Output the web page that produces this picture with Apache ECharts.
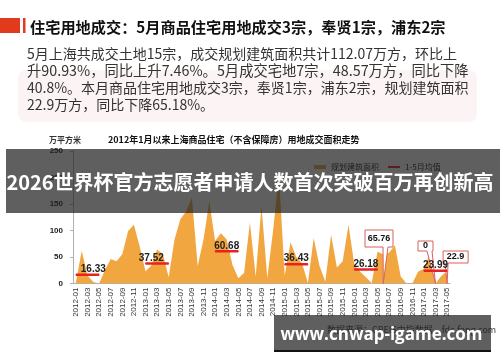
<!DOCTYPE html>
<html><head><meta charset="utf-8">
<script src="https://cdn.jsdelivr.net/npm/echarts@6/dist/echarts.min.js"></script>
<style>html,body{margin:0;padding:0;background:#fff}#c{width:500px;height:362px}</style>
</head><body><div id="c"></div>
<script>
// ---------------- DATA ----------------
const categories = [
 '2012-01','2012-02','2012-03','2012-04','2012-05','2012-06','2012-07','2012-08','2012-09','2012-10','2012-11','2012-12',
 '2013-01','2013-02','2013-03','2013-04','2013-05','2013-06','2013-07','2013-08','2013-09','2013-10','2013-11','2013-12',
 '2014-01','2014-02','2014-03','2014-04','2014-05','2014-06','2014-07','2014-08','2014-09','2014-10','2014-11','2014-12',
 '2015-01','2015-02','2015-03','2015-04','2015-05','2015-06','2015-07','2015-08','2015-09','2015-10','2015-11','2015-12',
 '2016-01','2016-02','2016-03','2016-04','2016-05','2016-06','2016-07','2016-08','2016-09','2016-10','2016-11','2016-12',
 '2017-01','2017-02','2017-03','2017-04','2017-05'
];
const areaValues = [
  2, 62, 15, 2.65, 0, 25, 46, 42, 55, 99, 111, 70,
  23, 34, 64, 55, 11.6, 83, 121, 136, 162, 33, 83, 155,
  80, 95, 83, 35, 10, 20, 115, 13, 146, 10, 100, 205,
  15, 78, 50, 38, 1, 86, 33, 4, 92, 30, 42, 111,
  36, 22, 12, 1, 60, 55, 58, 72, 13, 0, 0, 22,
  28, 55, 0, 14, 22.9
];
const avgYears = ['2012','2013','2014','2015','2016','2017'];
const avgValues = [16.33, 37.52, 60.68, 36.43, 26.18, 23.99];
const calloutCats = ['2016-06','2017-03','2017-05'];
const calloutTexts = ['65.76','0','22.9'];
const yTicks = [0, 50, 100, 150, 200, 250];
const seriesNames = ['规划建筑面积', '1-5月均值'];

// ---------------- LAYOUT / STYLE ----------------
const ORANGE = '#F2A640';
const RED = '#E8231F';
const avgLabelIdx = [3, 1, 2, 2, 2, 2];    // which month of Jan-May carries the label
const calloutBox = [                       // box offsets from tip in px
  {dx:-18.3, dy:-53.5, w:28, h:17, wedge:[18,23]},
  {dx:-17.5, dy:-42.5, w:15, h:10, wedge:[9,14]},
  {dx:-4,    dy:-32.5, w:25, h:12, wedge:[2,5]}
];

const chart = echarts.init(document.getElementById('c'));

const avgSeries = avgValues.map((v, k) => {
  const start = categories.indexOf(avgYears[k] + '-01');
  const data = categories.map(() => null);
  for (let m = 0; m < 5; m++) {
    const idx = start + m;
    if (idx < categories.length) {
      data[idx] = (m === avgLabelIdx[k]) ? {value: v, label: {show: true}} : v;
    }
  }
  return {
    type: 'line', name: seriesNames[1], data, z: 4,
    symbol: 'circle', symbolSize: 1, showSymbol: true,
    itemStyle: {color: RED}, lineStyle: {color: RED, width: 2.5},
    label: {show: false, position: 'top', distance: 0, formatter: String(v),
      fontSize: 10, fontWeight: 'bold', color: '#222', fontFamily: 'Liberation Sans'},
    emphasis: {disabled: true}, silent: true
  };
});

const option = {
  animation: false,
  title: {
    text: '2012年1月以来上海商品住宅（不含保障房）用地成交面积走势',
    left: 103, top: 130,
    textStyle: {fontSize: 9, fontWeight: 'bold', color: '#111', fontFamily: 'Noto Sans CJK SC'}
  },
  legend: [
    {data: [seriesNames[0]], left: 309, top: 158, icon: 'rect', itemWidth: 12, itemHeight: 4, itemGap: 4,
     textStyle: {fontSize: 8, color: '#222', fontFamily: 'Noto Sans CJK SC'}},
    {data: [seriesNames[1]], left: 383, top: 158, icon: 'rect', itemWidth: 12, itemHeight: 2, itemGap: 4,
     textStyle: {fontSize: 8, color: '#222', fontFamily: 'Noto Sans CJK SC'}}
  ],
  grid: {left: 73, right: 50, top: 151, bottom: 78.5},
  xAxis: {
    type: 'category', data: categories, boundaryGap: true,
    axisLine: {lineStyle: {color: '#b0b0b0'}},
    axisTick: {alignWithLabel: true, interval: 0, length: 3, lineStyle: {color: '#b0b0b0'}},
    axisLabel: {interval: 1, rotate: 90, fontSize: 8, color: '#333', margin: 4, fontFamily: 'Liberation Sans'}
  },
  yAxis: {
    type: 'value', min: yTicks[0], max: yTicks[yTicks.length - 1], interval: 50,
    axisLine: {show: true, lineStyle: {color: '#b0b0b0'}},
    axisTick: {show: true, length: 3, lineStyle: {color: '#b0b0b0'}},
    splitLine: {show: false},
    axisLabel: {fontSize: 8, fontWeight: 'bold', color: '#222', margin: 10, fontFamily: 'Liberation Sans'}
  },
  series: [{
    type: 'line', name: seriesNames[0], data: areaValues, z: 2,
    showSymbol: false, symbol: 'none',
    itemStyle: {color: ORANGE}, lineStyle: {width: 0, color: ORANGE},
    areaStyle: {color: ORANGE, opacity: 1}, silent: true
  }].concat(avgSeries),
  graphic: []
};
chart.setOption(option);

// ---------- callouts (anchored via library scales) ----------
const g = [];
calloutCats.forEach((cat, i) => {
  const tip = chart.convertToPixel({seriesIndex: 0}, [cat, 0]);
  const b = calloutBox[i];
  const x0 = tip[0] + b.dx, y0 = tip[1] + b.dy, x1 = x0 + b.w, y1 = y0 + b.h;
  g.push({
    type: 'polygon', z: 3,
    shape: {points: [[x0, y0], [x1, y0], [x1, y1], [x0 + b.wedge[1], y1], [tip[0], tip[1]], [x0 + b.wedge[0], y1], [x0, y1]]},
    style: {fill: '#fff', stroke: '#D9605E', lineWidth: 1}
  });
  g.push({
    type: 'text', z: 51, x: (x0 + x1) / 2, y: (y0 + y1) / 2,
    style: {text: calloutTexts[i], fill: '#111', font: 'bold 9px "Liberation Sans"', textAlign: 'center', textVerticalAlign: 'middle'}
  });
});

// header and overlays
g.push(
  {type: 'rect', shape: {x: 0, y: 18, width: 20, height: 15}, style: {fill: '#E23A1C'}, z: 1},
  {type: 'rect', shape: {x: 23, y: 18, width: 2.5, height: 15}, style: {fill: '#E23A1C'}, z: 1},
  {type: 'text', x: 30, y: 27, z: 1, style: {text: '住宅用地成交：5月商品住宅用地成交3宗，奉贤1宗，浦东2宗',
    font: 'bold 15.2px "Noto Sans CJK SC"', fill: '#111', textVerticalAlign: 'middle'}},
  {type: 'rect', shape: {x: 18, y: 70, width: 459, height: 52, r: 8}, style: {fill: '#FCF4F4'}, z: 0},
  {type: 'text', x: 27, y: 54, z: 1, style: {text: '5月上海共成交土地15宗，成交规划建筑面积共计112.07万方，环比上',
    font: '14px "Noto Sans CJK SC"', fill: '#333', textVerticalAlign: 'middle'}},
  {type: 'text', x: 27, y: 71, z: 1, style: {text: '升90.93%，同比上升7.46%。5月成交宅地7宗，48.57万方，同比下降',
    font: '14.3px "Noto Sans CJK SC"', fill: '#333', textVerticalAlign: 'middle'}},
  {type: 'text', x: 27, y: 88, z: 1, style: {text: '40.8%。本月商品住宅用地成交3宗，奉贤1宗，浦东2宗，规划建筑面积',
    font: '14px "Noto Sans CJK SC"', fill: '#333', textVerticalAlign: 'middle'}},
  {type: 'text', x: 27, y: 105, z: 1, style: {text: '22.9万方，同比下降65.18%。',
    font: '14px "Noto Sans CJK SC"', fill: '#333', textVerticalAlign: 'middle'}},
  {type: 'text', x: 49, y: 140, z: 1, style: {text: '万平方米',
    font: 'bold 8px "Noto Sans CJK SC"', fill: '#333', textVerticalAlign: 'middle'}},
  {type: 'text', x: 327, y: 330, z: 1, style: {text: '数据来源：CREIS中指数据，fdc.fang.com',
    font: '9px "Noto Sans CJK SC"', fill: '#444', textVerticalAlign: 'middle'}},
  // top banner
  {type: 'rect', shape: {x: 6, y: 149, width: 494, height: 64}, style: {fill: 'rgba(30,30,30,0.71)'}, z: 100},
  {type: 'text', x: 250, y: 182, z: 101, style: {text: '2026世界杯官方志愿者申请人数首次突破百万再创新高',
    font: 'bold 20px "Noto Sans CJK SC"', fill: '#fff', textAlign: 'center', textVerticalAlign: 'middle'}},
  // bottom watermark
  {type: 'rect', shape: {x: 274, y: 315, width: 217, height: 37}, style: {fill: 'rgba(30,30,30,0.71)'}, z: 100},
  {type: 'rect', shape: {x: 274, y: 350, width: 217, height: 2}, style: {fill: 'rgba(10,10,10,0.9)'}, z: 100},
  {type: 'text', x: 381.5, y: 335, z: 101, style: {text: 'www.cnwap-igame.com',
    font: 'bold 17px "Open Sans"', fill: '#fff', textAlign: 'center', textVerticalAlign: 'middle'}}
);
chart.setOption({graphic: g});
</script>
</body></html>
